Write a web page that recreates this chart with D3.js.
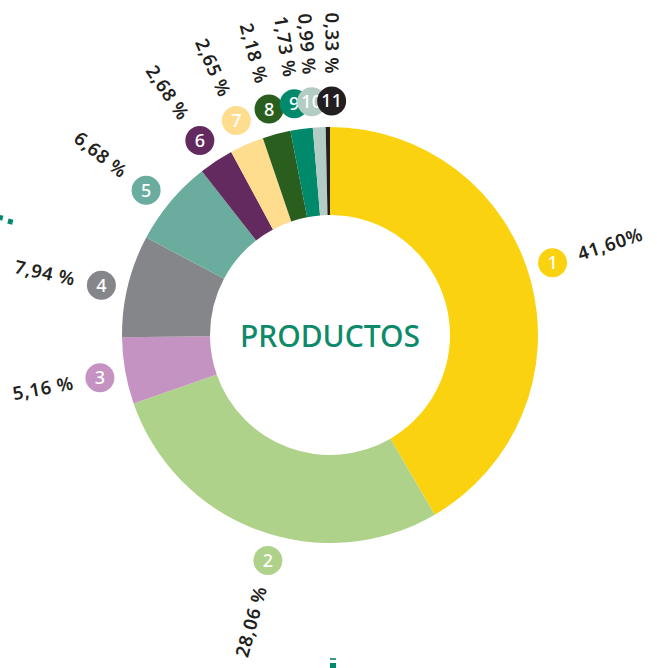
<!DOCTYPE html>
<html>
<head>
<meta charset="utf-8">
<script src="https://cdn.jsdelivr.net/npm/d3@7"></script>
<style>
  html, body { margin: 0; padding: 0; background: #ffffff; }
  svg { display: block; }
</style>
</head>
<body>
<svg id="chart" width="657" height="668"></svg>
<script>
// ---- data ----
const categories = ["1", "2", "3", "4", "5", "6", "7", "8", "9", "10", "11"];
const values = [41.60, 28.06, 5.16, 7.94, 6.68, 2.68, 2.65, 2.18, 1.73, 0.99, 0.33];
const valueLabels = ["41,60%", "28,06 %", "5,16 %", "7,94 %", "6,68 %", "2,68 %", "2,65 %", "2,18 %", "1,73 %", "0,99 %", "0,33 %"];
const centerTitle = "PRODUCTOS";
const colors = ["#FBD20F", "#AFD28B", "#C493C2", "#858689", "#6AAD9E", "#632A5F", "#FEDD8F", "#2A5E1E", "#00896B", "#B3CDC4", "#231F20"];

// ---- layout (label placement angles, degrees clockwise from top) ----
const badgeAngles = [72, 195.4, 259.5, 282.3, 308.2, 326.2, 336.4, 344.9, 351.2, 355.5, 360.4];

const W = 657, H = 668;
const cx = 330, cy = 335;
const outerR = 208, innerR = 120;
const badgeR = 234, badgeSize = 14.5;
const labelR = 261;

const svg = d3.select("#chart");
const g = svg.append("g").attr("transform", `translate(${cx},${cy})`);

const data = categories.map((c, i) => ({ cat: c, value: values[i], label: valueLabels[i], color: colors[i], ang: badgeAngles[i] }));

const pie = d3.pie().value(d => d.value).sort(null);
const arc = d3.arc().innerRadius(innerR).outerRadius(outerR);

g.selectAll("path.slice")
  .data(pie(data))
  .join("path")
  .attr("class", "slice")
  .attr("d", arc)
  .attr("fill", d => d.data.color);

// centre title
g.append("text")
  .attr("x", 0).attr("y", 12)
  .attr("text-anchor", "middle")
  .attr("font-family", "'Noto Sans', sans-serif")
  .attr("font-weight", 500)
  .attr("font-size", 30)
  .attr("fill", "#0E8A6B")
  .text(centerTitle);

const rad = a => a * Math.PI / 180;
const polar = (r, a) => [r * Math.sin(rad(a)), -r * Math.cos(rad(a))];

// badges
const badges = g.selectAll("g.badge").data(data).join("g")
  .attr("class", "badge")
  .attr("transform", d => { const [x, y] = polar(badgeR, d.ang); return `translate(${x},${y})`; });
badges.append("circle").attr("r", badgeSize).attr("fill", d => d.color);
badges.append("text")
  .attr("text-anchor", "middle")
  .attr("dy", "0.36em")
  .attr("font-family", "'Noto Sans', sans-serif")
  .attr("font-weight", 500)
  .attr("font-size", 18)
  .attr("fill", "#ffffff")
  .text(d => d.cat);

// percentage labels (radial)
g.selectAll("text.pct").data(data).join("text")
  .attr("class", "pct")
  .attr("transform", d => {
    const [x, y] = polar(labelR, d.ang);
    const rot = d.ang > 180 ? d.ang + 90 : d.ang - 90;
    return `translate(${x},${y}) rotate(${rot})`;
  })
  .attr("text-anchor", d => d.ang > 180 ? "end" : "start")
  .attr("dy", "0.36em")
  .attr("font-family", "'Noto Sans', sans-serif")
  .attr("font-weight", 600)
  .attr("font-size", 18.5)
  .attr("letter-spacing", 0.6)
  .attr("fill", "#231F20")
  .text(d => d.label);

// decorative fragments of leader lines (from surrounding infographic)
svg.append("rect").attr("x", -2).attr("y", 215).attr("width", 5).attr("height", 5)
  .attr("fill", "#00896B").attr("transform", "rotate(15,0,217)");
svg.append("rect").attr("x", 8).attr("y", 219).attr("width", 5).attr("height", 5)
  .attr("fill", "#00896B").attr("transform", "rotate(15,10,221)");
svg.append("rect").attr("x", 330).attr("y", 658).attr("width", 6).attr("height", 2).attr("fill", "#3a9e86");
svg.append("rect").attr("x", 330).attr("y", 663).attr("width", 6).attr("height", 5).attr("fill", "#00896B");
</script>
</body>
</html>
